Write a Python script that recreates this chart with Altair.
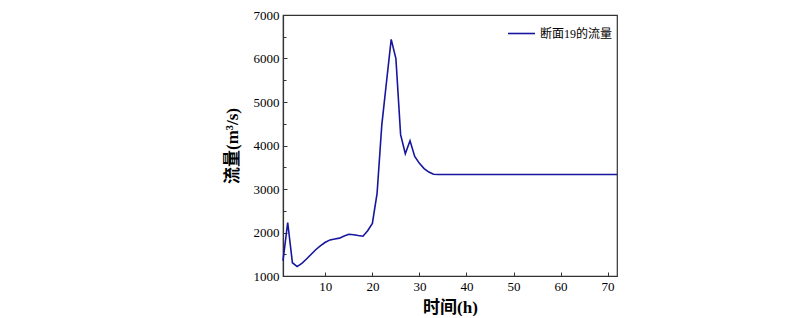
import altair as alt
import pandas as pd

hours = list(range(1, 73))
flow_early = [1350, 2230, 1305, 1216, 1290, 1390, 1500, 1610, 1700, 1775,
              1830, 1850, 1870, 1920, 1960, 1950, 1930, 1915, 2040, 2210,
              2900, 4470, 5460, 6440, 6000, 4250, 3810, 4110, 3750, 3590,
              3470, 3390, 3338]
flow_late = [3335] * (72 - len(flow_early))
flow = flow_early + flow_late
series = ["断面19的流量"] * len(hours)

df = pd.DataFrame({"时间": hours, "流量": flow, "系列": series})

serif = "Liberation Serif, Noto Sans CJK SC"

y_values = list(range(1000, 7001, 500))

chart = alt.Chart(df).mark_line(strokeWidth=1.6).encode(
    x=alt.X("时间:Q",
            scale=alt.Scale(domain=[1, 72], nice=False, zero=False),
            axis=alt.Axis(values=[10, 20, 30, 40, 50, 60, 70], title="时间(h)",
                          tickSize=alt.ExprRef("-4"), labelPadding=8,
                          titlePadding=6)),
    y=alt.Y("流量:Q",
            scale=alt.Scale(domain=[1000, 7000], nice=False, zero=False),
            axis=alt.Axis(values=y_values, title="流量(m³/s)",
                          labelExpr="datum.value % 1000 === 0 ? datum.label : ''",
                          tickSize=alt.ExprRef("datum.value % 1000 === 0 ? -4 : -3"),
                          labelPadding=8, titlePadding=12, labelOverlap=False)),
    color=alt.Color("系列:N", scale=alt.Scale(range=["#16169e"]),
                    legend=alt.Legend(title=None, orient="top-right",
                                      symbolType="stroke", symbolSize=729,
                                      symbolStrokeWidth=1.6, offset=4,
                                      labelFont=serif, labelFontSize=12,
                                      labelColor="#000")),
).properties(
    width=334, height=261,
    autosize=alt.AutoSizeParams(type="none"),
    padding={"left": 275, "top": 7, "right": 10, "bottom": 40},
).configure_view(
    stroke="#333", strokeWidth=1.2
).configure_axis(
    domainColor="#333", domainWidth=1.2, tickColor="#333", tickWidth=1,
    grid=False, labelFont=serif, labelFontSize=13, labelColor="#000",
    titleFont=serif, titleFontSize=17, titleFontWeight="bold", titleColor="#000",
    format="d"
)

chart.save("out.html", embed_options={"renderer": "svg", "actions": False})
